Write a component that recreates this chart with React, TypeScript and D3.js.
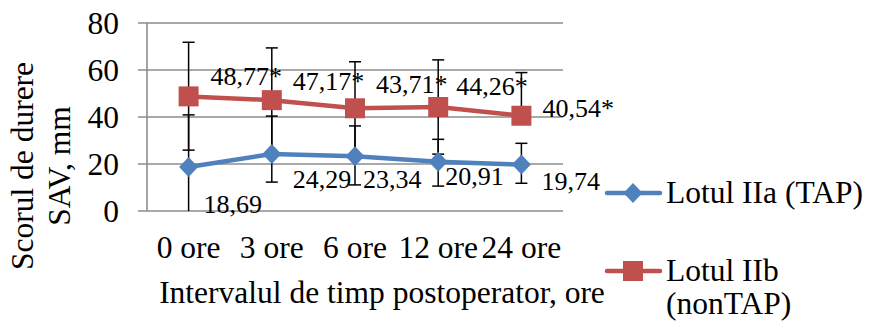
import * as d3 from 'd3';

const categories = ['0 ore', '3 ore', '6 ore', '12 ore', '24 ore'];
const lotIIa = [18.69, 24.29, 23.34, 20.91, 19.74];
const lotIIb = [48.77, 47.17, 43.71, 44.26, 40.54];
// error bar ends
const lotIIaHigh = [40.9, 40.4, 36.2, 30.5, 28.8];
const lotIIaLow = [-4, 12.3, 11.1, 10.6, 11.8];
const lotIIbHigh = [71.8, 69.4, 63.5, 64.3, 58.9];
const lotIIbLow: (number | null)[] = [25.9, 25.0, 23.9, 24.2, null];
const yTicks = [0, 20, 40, 60, 80];

// manual label nudges (dx, dy from the point)
const labelNudgeIIa = [[15, 46], [21, 34], [8, 32], [7, 23], [20, 25]];
const labelNudgeIIb = [[22, -11], [21, -10], [21, -15], [18, -12], [21, 1]];

const BLUE = '#4F81BD';
const RED = '#C0504D';
const GRID = '#8c8c8c';
const FONT = '"Liberation Serif", "Times New Roman", serif';

const fmt = (v: number) => v.toFixed(2).replace('.', ',');

export default function App() {
  const width = 870;
  const height = 321;
  const plot = { left: 147, right: 563, top: 23, bottom: 211 };

  const x = d3.scaleBand().domain(categories).range([plot.left, plot.right]);
  const cx = (i: number) => (x(categories[i]) as number) + x.bandwidth() / 2;
  const y = d3.scaleLinear().domain([0, 80]).range([plot.bottom, plot.top]);
  const yc = (v: number) => y(Math.max(0, v));

  const line = d3
    .line<number>()
    .x((_, i) => cx(i))
    .y((d) => y(d));

  const square = d3.symbol(d3.symbolSquare, 400)() as string;
  const diamond = 'M0,-10L9.5,0L0,10L-9.5,0Z';

  const errorBars = (hi: number[], lo: (number | null)[], vals: number[]) =>
    vals.map((v, i) => {
      const xi = cx(i);
      const top = hi[i];
      const bot = lo[i] === null ? v : (lo[i] as number);
      return (
        <g key={i} stroke="#000" strokeWidth={1.5}>
          <line x1={xi} x2={xi} y1={yc(top)} y2={yc(bot)} />
          <line x1={xi - 6} x2={xi + 6} y1={yc(top)} y2={yc(top)} />
          {lo[i] !== null && (lo[i] as number) > 0 && (
            <line x1={xi - 6} x2={xi + 6} y1={yc(bot)} y2={yc(bot)} />
          )}
        </g>
      );
    });

  return (
    <svg
      width={width}
      height={height}
      style={{ position: 'absolute', left: 0, top: 0, background: '#fff' }}
      fontFamily={FONT}
    >
      {/* gridlines and tick marks */}
      {yTicks.map((t) => (
        <g key={t}>
          <line x1={plot.left - 9} x2={plot.right} y1={y(t)} y2={y(t)} stroke={GRID} strokeWidth={1.6} />
          <text x={119} y={y(t)} dy="0.35em" textAnchor="end" fontSize={31.5}>
            {t}
          </text>
        </g>
      ))}
      <line x1={plot.left} x2={plot.left} y1={plot.top} y2={plot.bottom} stroke={GRID} strokeWidth={1.6} />

      {/* y axis title */}
      <text transform={`translate(33,166) rotate(-90)`} textAnchor="middle" fontSize={31.5}>
        <tspan x={0} dy={0}>Scorul de durere</tspan>
        <tspan x={0} dy={37}>SAV, mm</tspan>
      </text>

      {/* categories */}
      {categories.map((c, i) => (
        <text key={c} x={cx(i)} y={258} textAnchor="middle" fontSize={31.5}>
          {c}
        </text>
      ))}
      <text x={382} y={303} textAnchor="middle" fontSize={31.5}>
        Intervalul de timp postoperator, ore
      </text>

      {/* error bars */}
      {errorBars(lotIIaHigh, lotIIaLow, lotIIa)}
      {errorBars(lotIIbHigh, lotIIbLow, lotIIb)}

      {/* series lines */}
      <path d={line(lotIIa) as string} fill="none" stroke={BLUE} strokeWidth={4.5} strokeLinejoin="round" />
      <path d={line(lotIIb) as string} fill="none" stroke={RED} strokeWidth={4.5} strokeLinejoin="round" />

      {/* markers */}
      {lotIIa.map((v, i) => (
        <path key={'a' + i} d={diamond} transform={`translate(${cx(i)},${y(v)})`} fill={BLUE} />
      ))}
      {lotIIb.map((v, i) => (
        <path key={'b' + i} d={square} transform={`translate(${cx(i)},${y(v)})`} fill={RED} />
      ))}

      {/* data labels */}
      {lotIIa.map((v, i) => (
        <text key={'la' + i} x={cx(i) + labelNudgeIIa[i][0]} y={y(v) + labelNudgeIIa[i][1]} fontSize={26}>
          {fmt(v)}
        </text>
      ))}
      {lotIIb.map((v, i) => (
        <text key={'lb' + i} x={cx(i) + labelNudgeIIb[i][0]} y={y(v) + labelNudgeIIb[i][1]} fontSize={26}>
          {fmt(v) + '*'}
        </text>
      ))}

      {/* legend */}
      <g>
        <line x1={607} x2={660} y1={193} y2={193} stroke={BLUE} strokeWidth={4.5} strokeLinecap="round" />
        <path d={diamond} transform="translate(633,193)" fill={BLUE} />
        <text x={666} y={203} fontSize={31.5}>Lotul IIa (TAP)</text>
        <line x1={607} x2={660} y1={271} y2={271} stroke={RED} strokeWidth={4.5} strokeLinecap="round" />
        <path d={square} transform="translate(633,271)" fill={RED} />
        <text x={666} y={281} fontSize={31.5}>Lotul IIb</text>
        <text x={666} y={314} fontSize={31.5}>(nonTAP)</text>
      </g>
    </svg>
  );
}
